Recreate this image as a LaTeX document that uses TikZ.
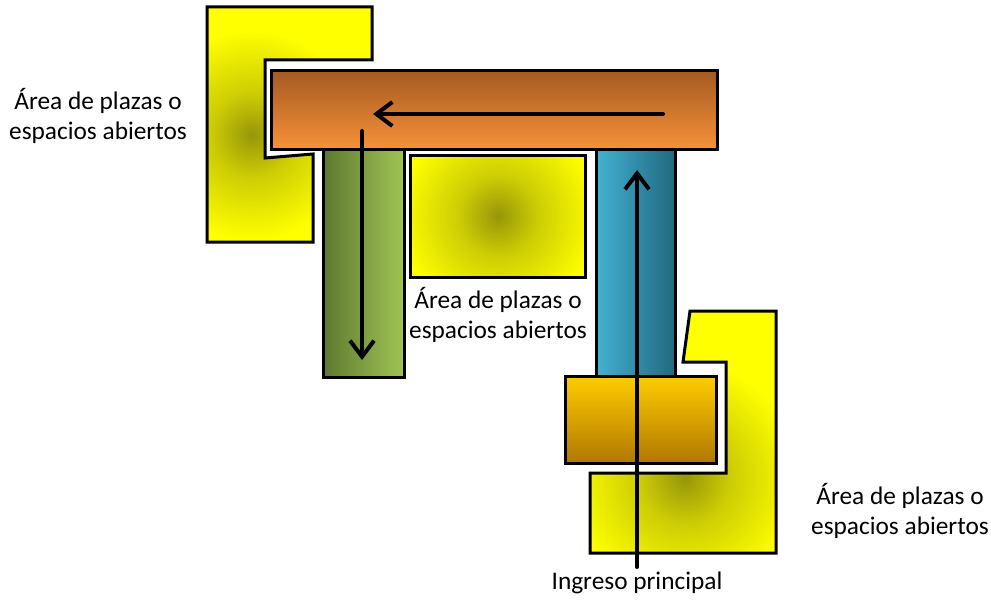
\documentclass[tikz,border=0pt]{standalone}
\usepackage{fontspec}
\setmainfont{Carlito}
\usetikzlibrary{arrows.meta}
\definecolor{ylw}{RGB}{255,255,0}
\definecolor{olivec}{RGB}{150,150,10}
\definecolor{olmid}{RGB}{205,205,5}
\definecolor{orTop}{RGB}{164,90,34}
\definecolor{orBot}{RGB}{248,146,56}
\definecolor{grL}{RGB}{94,120,48}
\definecolor{grR}{RGB}{160,196,84}
\definecolor{blL}{RGB}{66,178,210}
\definecolor{blR}{RGB}{34,104,128}
\definecolor{gdTop}{RGB}{255,204,0}
\definecolor{gdBot}{RGB}{176,120,0}
\pgfdeclareradialshading{glow}{\pgfpoint{0bp}{0bp}}{color(0bp)=(olivec); color(10bp)=(olmid); color(25bp)=(ylw); color(50bp)=(ylw)}
\tikzset{
  border/.style={draw=black, line width=2.25pt, line join=miter},
  flow/.style={line width=3pt, line cap=round, -{Straight Barb[length=12pt,width=18pt,line width=3pt]}},
  lbl/.style={font=\fontsize{19}{22.5}\selectfont, align=center, inner sep=0pt},
}
\begin{document}
\begin{tikzpicture}[x=0.75pt,y=-0.75pt]
\useasboundingbox (0,0) rectangle (991,602);
% left open area
\fill[ylw] (207,7) -- (372,7) -- (372,60) -- (265,60) -- (265,158) -- (313,154) -- (313,242) -- (207,242) -- cycle;
\begin{scope}
\clip (207,7) -- (372,7) -- (372,60) -- (265,60) -- (265,158) -- (313,154) -- (313,242) -- (207,242) -- cycle;
\shade[shading=glow] (252,135) circle (105);
\end{scope}
\draw[border] (207,7) -- (372,7) -- (372,60) -- (265,60) -- (265,158) -- (313,154) -- (313,242) -- (207,242) -- cycle;
% orange bar
\shade[top color=orTop, bottom color=orBot] (271,71) rectangle (717,150);
\draw[border] (271,71) rectangle (717,150);
% green column
\shade[left color=grL, right color=grR] (323,150) rectangle (404,377);
\draw[border] (323,150) rectangle (404,377);
% middle open area
\fill[ylw] (410,156) rectangle (585,277);
\begin{scope}
\clip (410,156) rectangle (585,277);
\shade[shading=glow] (498,216) circle (100);
\end{scope}
\draw[border] (410,156) rectangle (585,277);
% blue column
\shade[left color=blL, right color=blR] (596,150) rectangle (675,376);
\draw[border] (596,150) rectangle (675,376);
% right open area
\fill[ylw] (690,311) -- (776,311) -- (776,553) -- (590,553) -- (590,473) -- (726,473) -- (726,362) -- (683,362) -- cycle;
\begin{scope}
\clip (690,311) -- (776,311) -- (776,553) -- (590,553) -- (590,473) -- (726,473) -- (726,362) -- (683,362) -- cycle;
\shade[shading=glow] (685,478) circle (115);
\end{scope}
\draw[border] (690,311) -- (776,311) -- (776,553) -- (590,553) -- (590,473) -- (726,473) -- (726,362) -- (683,362) -- cycle;
% gold box
\shade[top color=gdTop, bottom color=gdBot] (565,376) rectangle (716,463);
\draw[border] (565,376) rectangle (716,463);
% arrows
\coordinate (a1s) at (663,114);
\coordinate (a1e) at (373,114);
\coordinate (a2s) at (362,131);
\coordinate (a2e) at (362,360);
\coordinate (a3s) at (637,567);
\coordinate (a3e) at (637,170);
\draw[flow] (a1s) -- (a1e);
\draw[flow] (a2s) -- (a2e);
\draw[flow] (a3s) -- (a3e);
% labels
\node[lbl] (lblL) at (98,116) {Área de plazas o\\espacios abiertos};
\node[lbl] (lblM) at (498,315) {Área de plazas o\\espacios abiertos};
\node[lbl] (lblR) at (900,511) {Área de plazas o\\espacios abiertos};
\node[lbl] (lblI) at (637,583) {Ingreso principal};
\end{tikzpicture}
\end{document}
